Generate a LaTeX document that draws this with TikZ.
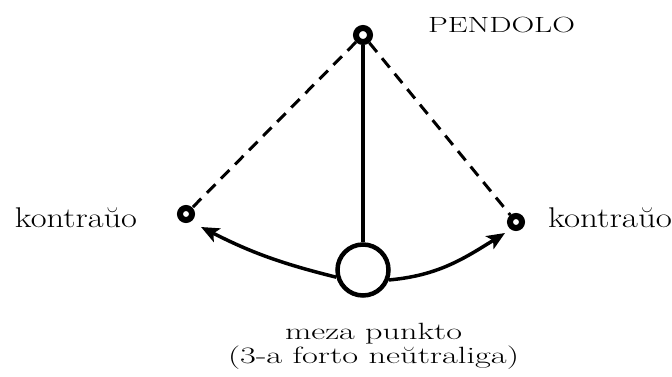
\documentclass[tikz,border=0pt]{standalone}
\usetikzlibrary{arrows.meta}
\begin{document}
\begin{tikzpicture}[x=1pt,y=-1pt,
  hinge/.style={circle, draw, line width=6pt, inner sep=0pt, minimum size=12pt},
  pivot/.style={circle, draw, line width=6pt, inner sep=0pt, minimum size=14pt},
  bob/.style={circle, draw, line width=4.5pt, inner sep=0pt, minimum size=51pt},
  rod/.style={line width=4.5pt},
  dashline/.style={line width=3pt, dash pattern=on 12pt off 8pt},
  swing/.style={line width=3.5pt, -{Stealth[length=18pt,width=15pt,inset=4pt]}},
  lbl/.style={anchor=base west, inner sep=0pt, outer sep=0pt}]
\useasboundingbox (0,0) rectangle (672,377);
\node[pivot] (P) at (363,35) {};
\node[hinge] (L) at (186,214) {};
\node[hinge] (R) at (516,222) {};
\node[bob] (B) at (363,270) {};
\coordinate (Ltip) at (201,227);
\coordinate (Rtip) at (505,233);
\draw[rod] (P) -- (B);
\draw[dashline] (P) -- (L);
\draw[dashline] (P) -- (R);
\draw[swing] (B.195) to[out=166,in=-27] (Ltip);
\draw[swing] (B.-21) to[out=5,in=212] (Rtip);
\node[lbl] (tP) at (428,33) {\fontsize{22}{26}\selectfont\resizebox{147pt}{\height}{PENDOLO}};
\node[lbl] (tL) at (15,227) {\fontsize{28.5}{32}\selectfont\resizebox{122pt}{\height}{kontraŭo}};
\node[lbl] (tR) at (548,227) {\fontsize{28.5}{32}\selectfont\resizebox{124pt}{\height}{kontraŭo}};
\node[lbl] (tM) at (285,339) {\fontsize{23.5}{26}\selectfont\resizebox{177pt}{\height}{meza punkto}};
\node[lbl] (tN) at (228,363) {\fontsize{23.5}{26}\selectfont\resizebox{291pt}{\height}{(3-a forto neŭtraliga)}};
\end{tikzpicture}
\end{document}
